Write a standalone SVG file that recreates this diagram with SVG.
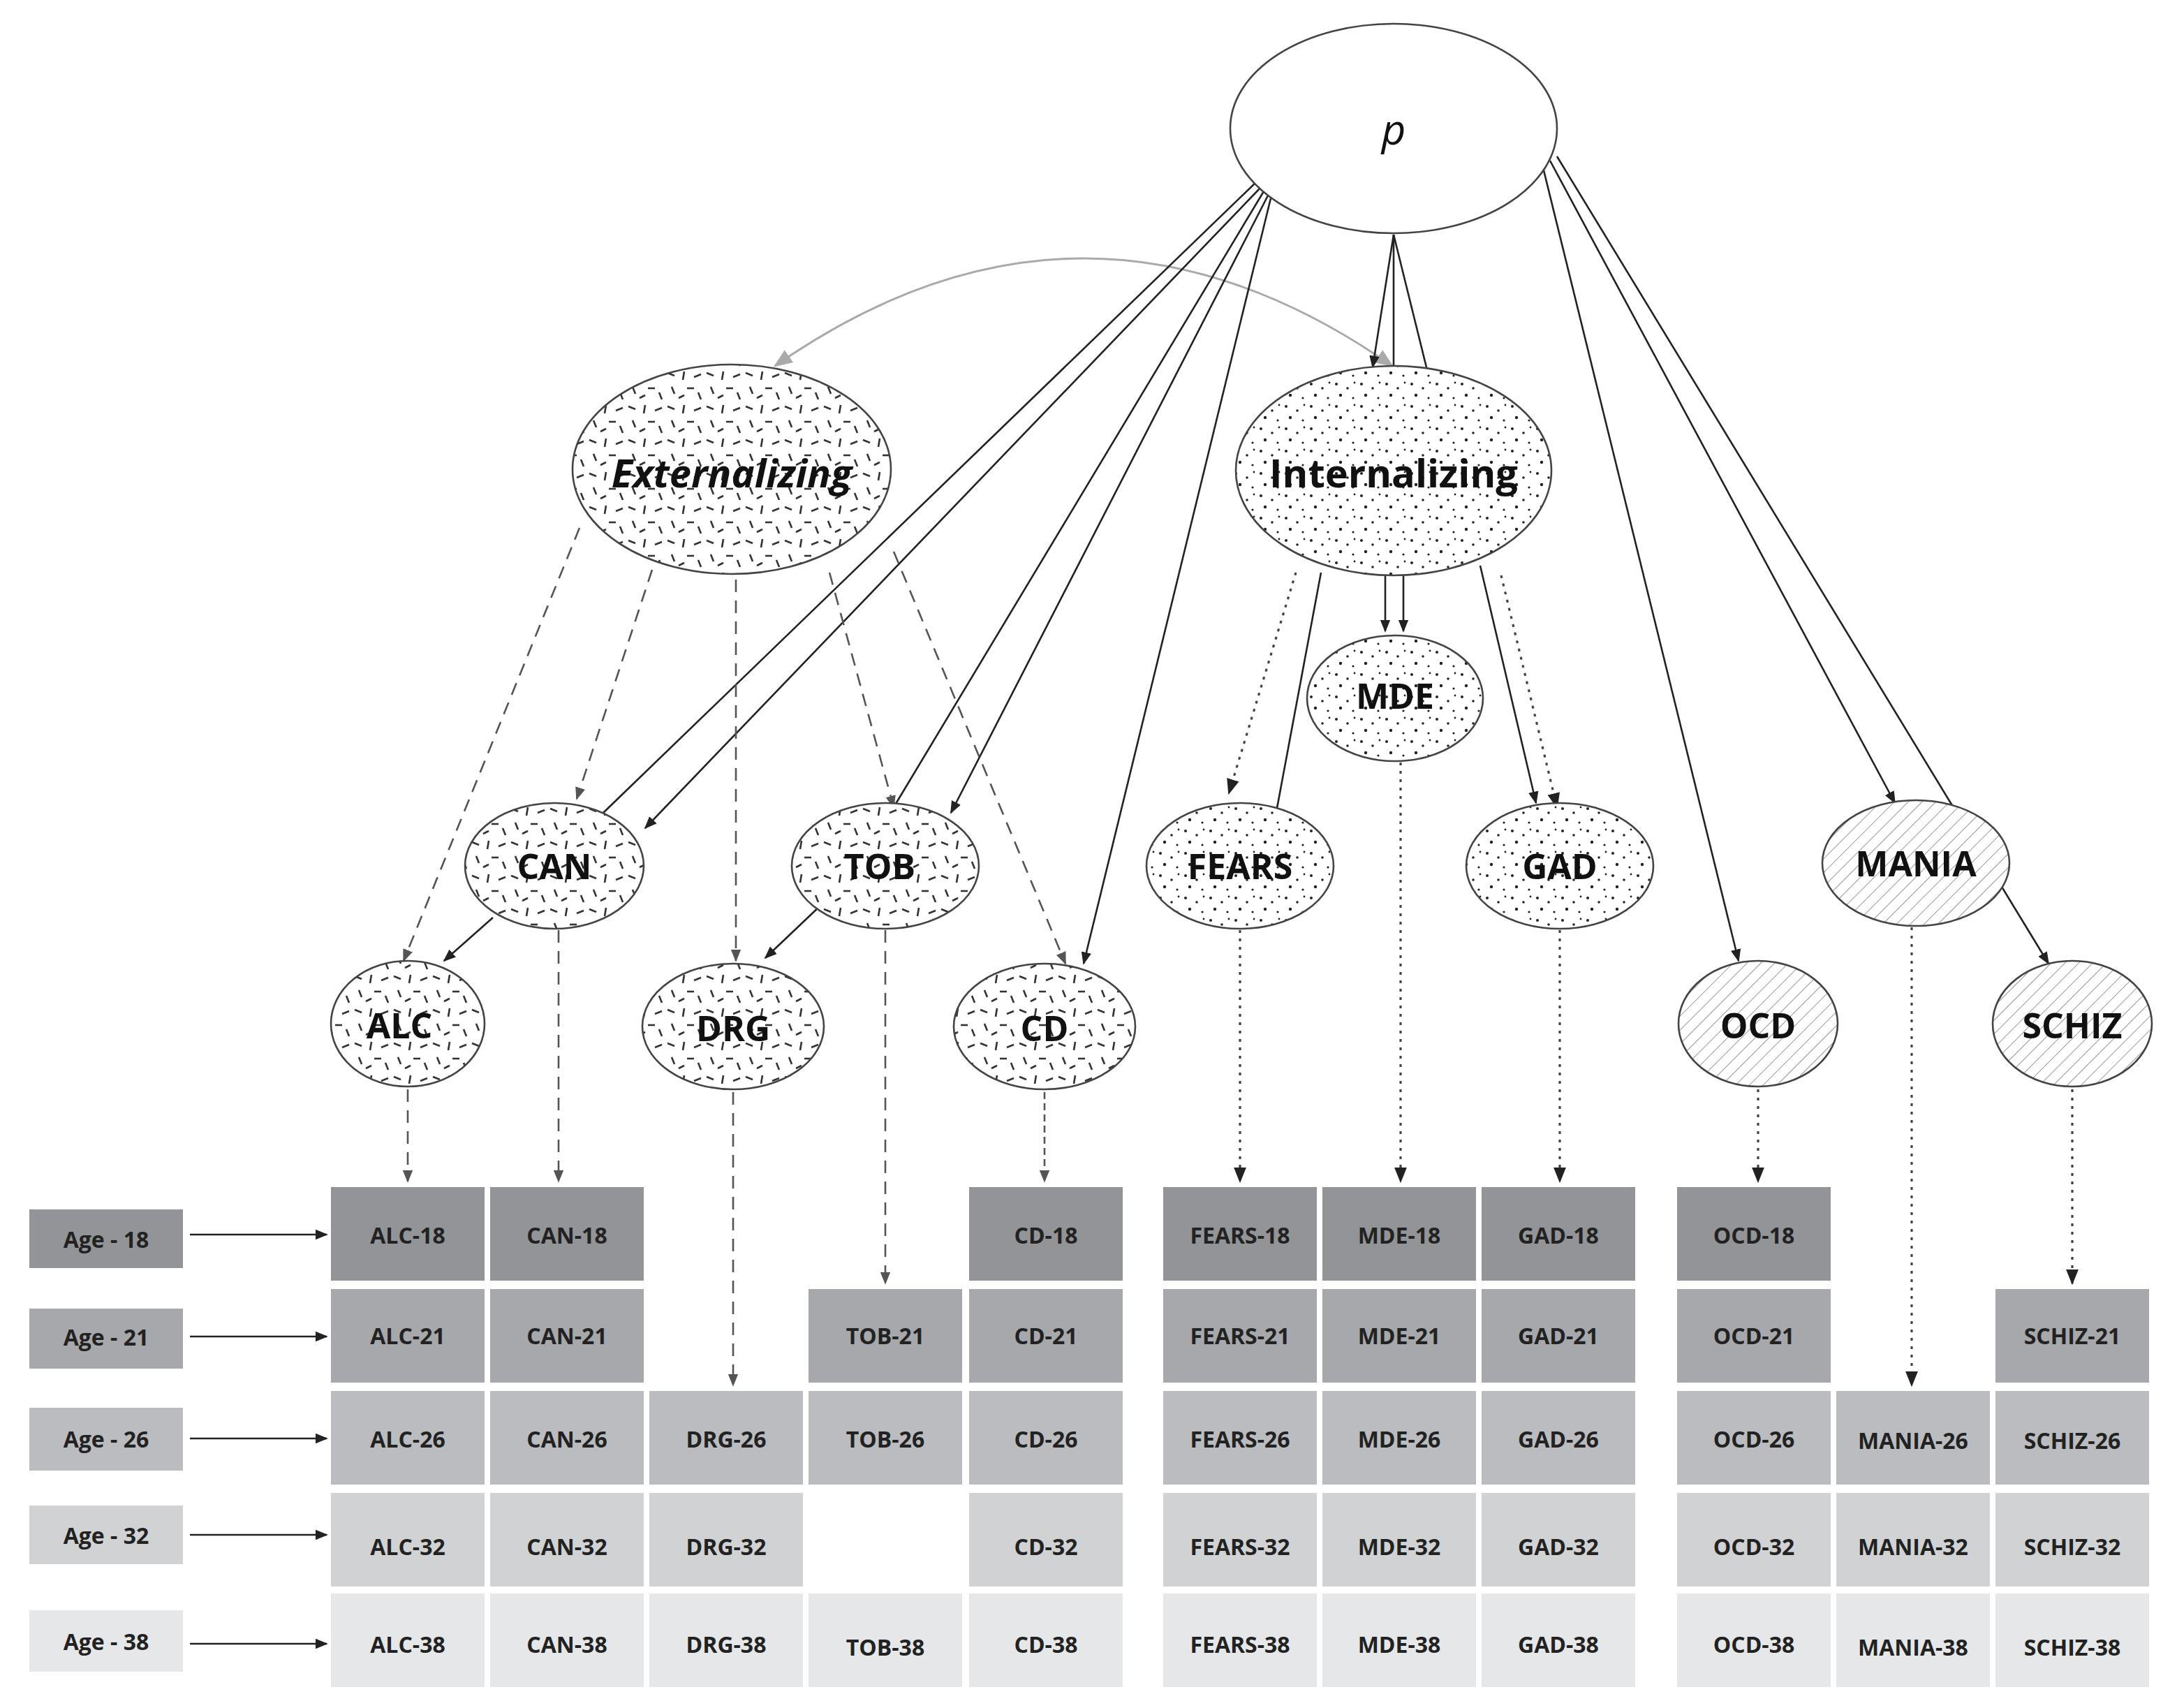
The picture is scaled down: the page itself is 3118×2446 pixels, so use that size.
<svg xmlns="http://www.w3.org/2000/svg" width="3118" height="2446" viewBox="0 0 3118 2446">
<style>
.n{stroke:#444;stroke-width:1.3}
.lbl{font-family:"Open Sans","Liberation Sans",sans-serif;font-weight:700;font-size:25px;fill:#111;text-anchor:middle;dominant-baseline:central}
.c{font-family:"Open Sans","Liberation Sans",sans-serif;font-weight:700;font-size:16px;fill:#222;text-anchor:middle;dominant-baseline:central}
.s{stroke:#222;stroke-width:1.3;fill:none;marker-end:url(#a)}
.sp{stroke:#222;stroke-width:1.3;fill:none}
.d{stroke:#555;stroke-width:1.3;fill:none;stroke-dasharray:9 6;marker-end:url(#ag)}
.t{stroke:#444;stroke-width:1.6;fill:none;stroke-dasharray:2 4;marker-end:url(#a)}
.r18{fill:#939497}.r21{fill:#a7a8ab}.r26{fill:#bbbcbf}.r32{fill:#d1d2d4}.r38{fill:#e6e7e8}
</style>
<defs>
<marker id="a" viewBox="0 0 10 10" refX="9" refY="5" markerWidth="7" markerHeight="7" orient="auto-start-reverse"><path d="M0,1 L10,5 L0,9 Z" fill="#222"/></marker>
<marker id="ag" viewBox="0 0 10 10" refX="9" refY="5" markerWidth="7" markerHeight="7" orient="auto-start-reverse"><path d="M0,1 L10,5 L0,9 Z" fill="#555"/></marker>
<marker id="ac" viewBox="0 0 10 10" refX="9" refY="5" markerWidth="9" markerHeight="9" orient="auto-start-reverse"><path d="M0,1 L10,5 L0,9 Z" fill="#aaa"/></marker>
<pattern id="dash" width="28" height="24" patternUnits="userSpaceOnUse">
<rect width="28" height="24" fill="#fff"/>
<g stroke="#333" stroke-width="1.3">
<line x1="2" y1="3" x2="7" y2="5"/><line x1="14" y1="2" x2="13" y2="8"/><line x1="21" y1="6" x2="26" y2="4"/>
<line x1="5" y1="13" x2="7" y2="18"/><line x1="16" y1="14" x2="21" y2="14"/><line x1="24" y1="17" x2="26" y2="22"/>
<line x1="10" y1="21" x2="14" y2="19"/></g></pattern>
<pattern id="dot" width="18" height="16" patternUnits="userSpaceOnUse">
<rect width="18" height="16" fill="#fff"/>
<g fill="#222"><circle cx="3" cy="3" r="1"/><circle cx="11" cy="6" r="0.9"/><circle cx="6" cy="11" r="1.1"/><circle cx="15" cy="13" r="0.8"/><circle cx="16" cy="2" r="0.7"/></g></pattern>
<pattern id="hatch" width="7" height="7" patternUnits="userSpaceOnUse" patternTransform="rotate(45)">
<rect width="7" height="7" fill="#fff"/><line x1="0" y1="0" x2="0" y2="7" stroke="#999" stroke-width="1"/></pattern>
</defs>
<rect width="3118" height="2446" fill="#fff"/>
<g transform="scale(2)">
<g id="connectors">
<path d="M555,262 Q776,108 997,262" stroke="#aaa" stroke-width="1.5" fill="none" marker-start="url(#ac)" marker-end="url(#ac)"/>
<line class="sp" x1="900" y1="130" x2="432" y2="582"/>
<line class="s" x1="903" y1="134" x2="462" y2="593"/>
<line class="sp" x1="905" y1="137" x2="640" y2="578"/>
<line class="s" x1="908" y1="140" x2="681" y2="582"/>
<line class="s" x1="910" y1="142" x2="776" y2="690"/>
<line class="s" x1="998" y1="168" x2="983" y2="263"/>
<line class="sp" x1="998" y1="168" x2="998" y2="263"/>
<line class="sp" x1="998" y1="168" x2="1022" y2="265"/>
<line class="s" x1="992" y1="412" x2="992" y2="452"/>
<line class="s" x1="1005" y1="412" x2="1005" y2="452"/>
<line class="s" x1="946" y1="410" x2="912" y2="592"/>
<line class="s" x1="1060" y1="405" x2="1100" y2="575"/>
<line class="s" x1="1105" y1="120" x2="1245" y2="688"/>
<line class="s" x1="1110" y1="115" x2="1357" y2="575"/>
<line class="s" x1="1115" y1="112" x2="1467" y2="690"/>
<line class="s" x1="353" y1="657" x2="318" y2="688"/>
<line class="s" x1="588" y1="648" x2="548" y2="686"/>
<line class="d" x1="415" y1="378" x2="289" y2="688"/>
<line class="d" x1="467" y1="408" x2="413" y2="572"/>
<line class="d" x1="527" y1="415" x2="527" y2="688"/>
<line class="d" x1="594" y1="410" x2="640" y2="578"/>
<line class="d" x1="640" y1="395" x2="763" y2="690"/>
<line class="d" x1="292" y1="780" x2="292" y2="846"/>
<line class="d" x1="400" y1="666" x2="400" y2="846"/>
<line class="d" x1="525" y1="782" x2="525" y2="992"/>
<line class="d" x1="634" y1="666" x2="634" y2="919"/>
<line class="d" x1="748" y1="782" x2="748" y2="846" style="stroke-dasharray:5 3"/>
<line class="t" x1="928" y1="410" x2="880" y2="568"/>
<line class="t" x1="1075" y1="412" x2="1115" y2="578"/>
<line class="t" x1="888" y1="666" x2="888" y2="846"/>
<line class="t" x1="1003" y1="546" x2="1003" y2="846"/>
<line class="t" x1="1117" y1="666" x2="1117" y2="846"/>
<line class="t" x1="1259" y1="780" x2="1259" y2="846"/>
<line class="t" x1="1369" y1="664" x2="1369" y2="992"/>
<line class="t" x1="1484" y1="780" x2="1484" y2="919"/>
<line class="s" x1="136" y1="884" x2="234" y2="884"/>
<line class="s" x1="136" y1="957" x2="234" y2="957"/>
<line class="s" x1="136" y1="1030" x2="234" y2="1030"/>
<line class="s" x1="136" y1="1099" x2="234" y2="1099"/>
<line class="s" x1="136" y1="1177" x2="234" y2="1177"/>
</g>
<g id="p"><ellipse cx="998" cy="92" rx="117" ry="75" fill="#fff" class="n"/><text x="998" y="92" class="lbl" style="font-style:italic;font-weight:400;font-size:30px">p</text></g>
<g id="externalizing"><ellipse cx="524" cy="336" rx="114" ry="75" fill="url(#dash)" class="n"/><text x="524" y="338" class="lbl" style="font-style:italic;font-size:28px">Externalizing</text></g>
<g id="internalizing"><ellipse cx="998" cy="337" rx="113" ry="75" fill="url(#dot)" class="n"/><text x="998" y="338" class="lbl" style="font-size:28px">Internalizing</text></g>
<g id="mde"><ellipse cx="999" cy="500" rx="63" ry="45" fill="url(#dot)" class="n"/><text x="999" y="498" class="lbl">MDE</text></g>
<g id="can"><ellipse cx="397" cy="620" rx="64" ry="45" fill="url(#dash)" class="n"/><text x="397" y="620" class="lbl">CAN</text></g>
<g id="tob"><ellipse cx="634" cy="620" rx="67" ry="45" fill="url(#dash)" class="n"/><text x="630" y="620" class="lbl">TOB</text></g>
<g id="fears"><ellipse cx="888" cy="620" rx="67" ry="45" fill="url(#dot)" class="n"/><text x="888" y="620" class="lbl">FEARS</text></g>
<g id="gad"><ellipse cx="1117" cy="620" rx="67" ry="45" fill="url(#dot)" class="n"/><text x="1117" y="620" class="lbl">GAD</text></g>
<g id="mania"><ellipse cx="1372" cy="618" rx="67" ry="45" fill="url(#hatch)" class="n"/><text x="1372" y="618" class="lbl">MANIA</text></g>
<g id="alc"><ellipse cx="292" cy="733" rx="55" ry="45" fill="url(#dash)" class="n"/><text x="286" y="734" class="lbl">ALC</text></g>
<g id="drg"><ellipse cx="525" cy="735" rx="65" ry="45" fill="url(#dash)" class="n"/><text x="525" y="736" class="lbl">DRG</text></g>
<g id="cd"><ellipse cx="748" cy="735" rx="65" ry="45" fill="url(#dash)" class="n"/><text x="748" y="736" class="lbl">CD</text></g>
<g id="ocd"><ellipse cx="1259" cy="733" rx="57" ry="45" fill="url(#hatch)" class="n"/><text x="1259" y="734" class="lbl">OCD</text></g>
<g id="schiz"><ellipse cx="1484" cy="733" rx="57" ry="45" fill="url(#hatch)" class="n"/><text x="1484" y="734" class="lbl">SCHIZ</text></g>
<g id="ages">
<rect class="r18" x="21" y="866" width="110" height="42"/><text class="c" x="76" y="887">Age - 18</text>
<rect class="r21" x="21" y="937" width="110" height="43"/><text class="c" x="76" y="957">Age - 21</text>
<rect class="r26" x="21" y="1008" width="110" height="45"/><text class="c" x="76" y="1030">Age - 26</text>
<rect class="r32" x="21" y="1078" width="110" height="42"/><text class="c" x="76" y="1099">Age - 32</text>
<rect class="r38" x="21" y="1153" width="110" height="44"/><text class="c" x="76" y="1175">Age - 38</text>
</g>
<g id="grid">
<rect class="r18" x="237" y="850" width="110" height="67"/><text class="c" x="292" y="884">ALC-18</text>
<rect class="r18" x="351" y="850" width="110" height="67"/><text class="c" x="406" y="884">CAN-18</text>
<rect class="r18" x="694" y="850" width="110" height="67"/><text class="c" x="749" y="884">CD-18</text>
<rect class="r18" x="833" y="850" width="110" height="67"/><text class="c" x="888" y="884">FEARS-18</text>
<rect class="r18" x="947" y="850" width="110" height="67"/><text class="c" x="1002" y="884">MDE-18</text>
<rect class="r18" x="1061" y="850" width="110" height="67"/><text class="c" x="1116" y="884">GAD-18</text>
<rect class="r18" x="1201" y="850" width="110" height="67"/><text class="c" x="1256" y="884">OCD-18</text>

<rect class="r21" x="237" y="923" width="110" height="67"/><text class="c" x="292" y="956">ALC-21</text>
<rect class="r21" x="351" y="923" width="110" height="67"/><text class="c" x="406" y="956">CAN-21</text>
<rect class="r21" x="579" y="923" width="110" height="67"/><text class="c" x="634" y="956">TOB-21</text>
<rect class="r21" x="694" y="923" width="110" height="67"/><text class="c" x="749" y="956">CD-21</text>
<rect class="r21" x="833" y="923" width="110" height="67"/><text class="c" x="888" y="956">FEARS-21</text>
<rect class="r21" x="947" y="923" width="110" height="67"/><text class="c" x="1002" y="956">MDE-21</text>
<rect class="r21" x="1061" y="923" width="110" height="67"/><text class="c" x="1116" y="956">GAD-21</text>
<rect class="r21" x="1201" y="923" width="110" height="67"/><text class="c" x="1256" y="956">OCD-21</text>
<rect class="r21" x="1429" y="923" width="110" height="67"/><text class="c" x="1484" y="956">SCHIZ-21</text>

<rect class="r26" x="237" y="996" width="110" height="67"/><text class="c" x="292" y="1030">ALC-26</text>
<rect class="r26" x="351" y="996" width="110" height="67"/><text class="c" x="406" y="1030">CAN-26</text>
<rect class="r26" x="465" y="996" width="110" height="67"/><text class="c" x="520" y="1030">DRG-26</text>
<rect class="r26" x="579" y="996" width="110" height="67"/><text class="c" x="634" y="1030">TOB-26</text>
<rect class="r26" x="694" y="996" width="110" height="67"/><text class="c" x="749" y="1030">CD-26</text>
<rect class="r26" x="833" y="996" width="110" height="67"/><text class="c" x="888" y="1030">FEARS-26</text>
<rect class="r26" x="947" y="996" width="110" height="67"/><text class="c" x="1002" y="1030">MDE-26</text>
<rect class="r26" x="1061" y="996" width="110" height="67"/><text class="c" x="1116" y="1030">GAD-26</text>
<rect class="r26" x="1201" y="996" width="110" height="67"/><text class="c" x="1256" y="1030">OCD-26</text>
<rect class="r26" x="1315" y="996" width="110" height="67"/><text class="c" x="1370" y="1031">MANIA-26</text>
<rect class="r26" x="1429" y="996" width="110" height="67"/><text class="c" x="1484" y="1031">SCHIZ-26</text>

<rect class="r32" x="237" y="1069" width="110" height="67"/><text class="c" x="292" y="1107">ALC-32</text>
<rect class="r32" x="351" y="1069" width="110" height="67"/><text class="c" x="406" y="1107">CAN-32</text>
<rect class="r32" x="465" y="1069" width="110" height="67"/><text class="c" x="520" y="1107">DRG-32</text>
<rect class="r32" x="694" y="1069" width="110" height="67"/><text class="c" x="749" y="1107">CD-32</text>
<rect class="r32" x="833" y="1069" width="110" height="67"/><text class="c" x="888" y="1107">FEARS-32</text>
<rect class="r32" x="947" y="1069" width="110" height="67"/><text class="c" x="1002" y="1107">MDE-32</text>
<rect class="r32" x="1061" y="1069" width="110" height="67"/><text class="c" x="1116" y="1107">GAD-32</text>
<rect class="r32" x="1201" y="1069" width="110" height="67"/><text class="c" x="1256" y="1107">OCD-32</text>
<rect class="r32" x="1315" y="1069" width="110" height="67"/><text class="c" x="1370" y="1107">MANIA-32</text>
<rect class="r32" x="1429" y="1069" width="110" height="67"/><text class="c" x="1484" y="1107">SCHIZ-32</text>

<rect class="r38" x="237" y="1141" width="110" height="67"/><text class="c" x="292" y="1177">ALC-38</text>
<rect class="r38" x="351" y="1141" width="110" height="67"/><text class="c" x="406" y="1177">CAN-38</text>
<rect class="r38" x="465" y="1141" width="110" height="67"/><text class="c" x="520" y="1177">DRG-38</text>
<rect class="r38" x="579" y="1141" width="110" height="67"/><text class="c" x="634" y="1179">TOB-38</text>
<rect class="r38" x="694" y="1141" width="110" height="67"/><text class="c" x="749" y="1177">CD-38</text>
<rect class="r38" x="833" y="1141" width="110" height="67"/><text class="c" x="888" y="1177">FEARS-38</text>
<rect class="r38" x="947" y="1141" width="110" height="67"/><text class="c" x="1002" y="1177">MDE-38</text>
<rect class="r38" x="1061" y="1141" width="110" height="67"/><text class="c" x="1116" y="1177">GAD-38</text>
<rect class="r38" x="1201" y="1141" width="110" height="67"/><text class="c" x="1256" y="1177">OCD-38</text>
<rect class="r38" x="1315" y="1141" width="110" height="67"/><text class="c" x="1370" y="1179">MANIA-38</text>
<rect class="r38" x="1429" y="1141" width="110" height="67"/><text class="c" x="1484" y="1179">SCHIZ-38</text>
</g>
</g>
</svg>
